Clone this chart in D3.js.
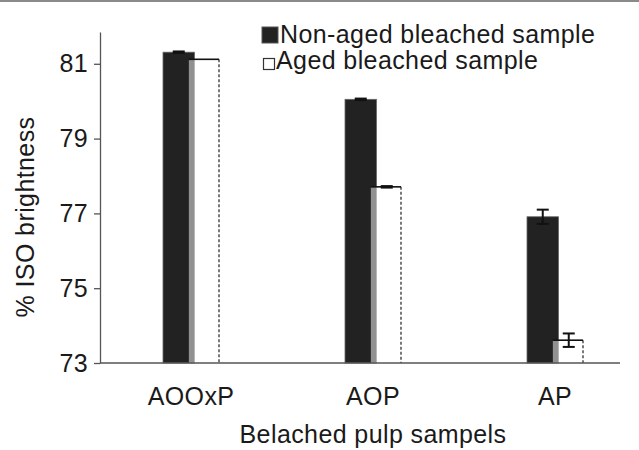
<!DOCTYPE html>
<html>
<head>
<meta charset="utf-8">
<script src="https://cdn.jsdelivr.net/npm/d3@7/dist/d3.min.js"></script>
<style>
  html, body { margin: 0; padding: 0; background: #fff; }
  svg { display: block; font-family: "Liberation Sans", Arial, Helvetica, sans-serif; }
  svg text { letter-spacing: 0.4px; }
</style>
</head>
<body>
<svg id="chart" width="639" height="450"></svg>
<script>
// Brightness of bleached pulps before and after ageing
const categories = ["AOOxP", "AOP", "AP"];
const seriesNames = ["Non-aged bleached sample", "Aged bleached sample"];
const nonAged = [81.31, 80.05, 76.91];
const aged = [81.12, 77.71, 73.61];
const nonAgedErr = [0.02, 0.02, 0.19];
const agedErr = [0.0, 0.02, 0.18];
const yTicks = [73, 75, 77, 79, 81];
const yTitle = "% ISO brightness";
const xTitle = "Belached pulp sampels";

const svg = d3.select("#chart");
const W = 639, H = 450;
const FS = 25;

// frame line along the top edge
svg.append("rect").attr("x", 0).attr("y", 0).attr("width", W).attr("height", 2).attr("fill", "#8a8a8a");

const x = d3.scalePoint().domain(categories).range([100, 646]).padding(0.5);
const y = d3.scaleLinear().domain([73, 81.85]).range([363, 32]);
const inner = d3.scaleBand().domain(seriesNames).range([-28, 28]);
const bw = inner.bandwidth();

const rows = categories.map((c, i) => ({
  cat: c, nonAged: nonAged[i], aged: aged[i], e1: nonAgedErr[i], e2: agedErr[i]
}));

function errorBar(parent, cx, v, e) {
  if (e <= 0) return;
  const eg = parent.append("g").attr("stroke", "#111").attr("stroke-width", 2);
  eg.append("line").attr("x1", cx).attr("x2", cx).attr("y1", y(v + e)).attr("y2", y(v - e));
  eg.append("line").attr("x1", cx - 6).attr("x2", cx + 6).attr("y1", y(v + e)).attr("y2", y(v + e));
  eg.append("line").attr("x1", cx - 6).attr("x2", cx + 6).attr("y1", y(v - e)).attr("y2", y(v - e));
}

// dark bars (non-aged)
const g = svg.append("g");
rows.forEach(r => {
  const cx = x(r.cat);
  const x0 = cx + inner(seriesNames[0]);
  const w0 = bw + 3.5;
  g.append("rect")
    .attr("x", x0).attr("y", y(r.nonAged))
    .attr("width", w0).attr("height", y(73) - y(r.nonAged))
    .attr("fill", "#222").attr("stroke", "#666").attr("stroke-width", 0.8);
  errorBar(g, x0 + w0 / 2, r.nonAged, r.e1);
});

// open bars (aged), half-transparent so the overlap reads grey
rows.forEach(r => {
  const cx = x(r.cat);
  const x0 = cx + inner(seriesNames[1]) - 2.5;
  const w1 = bw + 2.5;
  const top = y(r.aged), base = y(73);
  g.append("rect")
    .attr("x", x0).attr("y", top).attr("width", w1).attr("height", base - top)
    .attr("fill", "#fff").attr("fill-opacity", 0.5);
  g.append("line").attr("x1", x0).attr("x2", x0).attr("y1", top).attr("y2", base)
    .attr("stroke", "#333").attr("stroke-width", 1);
  g.append("line").attr("x1", x0 + w1).attr("x2", x0 + w1).attr("y1", top).attr("y2", base)
    .attr("stroke", "#333").attr("stroke-width", 1.3).attr("stroke-dasharray", "3,2");
  g.append("line").attr("x1", x0).attr("x2", x0 + w1).attr("y1", top).attr("y2", top)
    .attr("stroke", "#111").attr("stroke-width", 1.6);
  errorBar(g, x0 + w1 / 2 + 1, r.aged, r.e2);
});

// y axis
const yAxis = svg.append("g").attr("transform", "translate(100,0)")
  .call(d3.axisLeft(y).tickValues(yTicks).tickSize(6).tickPadding(6).tickSizeOuter(0));
yAxis.select(".domain").attr("stroke", "#555").attr("stroke-width", 1.3);
yAxis.selectAll(".tick line").attr("stroke", "#555").attr("stroke-width", 1.3);
yAxis.selectAll(".tick text").attr("font-size", FS).attr("fill", "#1a1a1a")
  .attr("font-family", "Liberation Sans, Arial, sans-serif");

// x axis baseline and category labels
svg.append("line").attr("x1", 100).attr("x2", 620).attr("y1", y(73)).attr("y2", y(73))
  .attr("stroke", "#555").attr("stroke-width", 1.3);
svg.selectAll("text.cat").data(categories).join("text").attr("class", "cat")
  .attr("x", d => x(d)).attr("y", 405).attr("text-anchor", "middle")
  .attr("font-size", FS).attr("fill", "#1a1a1a").text(d => d);

// axis titles
svg.append("text").attr("x", 373).attr("y", 443).attr("text-anchor", "middle")
  .attr("font-size", FS).attr("fill", "#1a1a1a").text(xTitle);
svg.append("text").attr("transform", "translate(34,217) rotate(-90)").attr("text-anchor", "middle")
  .attr("font-size", FS).attr("fill", "#1a1a1a").text(yTitle);

// legend
const leg = svg.append("g");
leg.append("rect").attr("x", 262).attr("y", 27).attr("width", 16).attr("height", 16)
  .attr("fill", "#222").attr("stroke", "#555");
leg.append("text").attr("x", 280).attr("y", 43).attr("font-size", FS).attr("fill", "#1a1a1a").text(seriesNames[0]);
leg.append("rect").attr("x", 263.5).attr("y", 58.5).attr("width", 11).attr("height", 11)
  .attr("fill", "#fff").attr("stroke", "#333").attr("stroke-width", 1.2);
leg.append("text").attr("x", 276).attr("y", 69).attr("font-size", FS).attr("fill", "#1a1a1a").text(seriesNames[1]);
</script>
</body>
</html>
